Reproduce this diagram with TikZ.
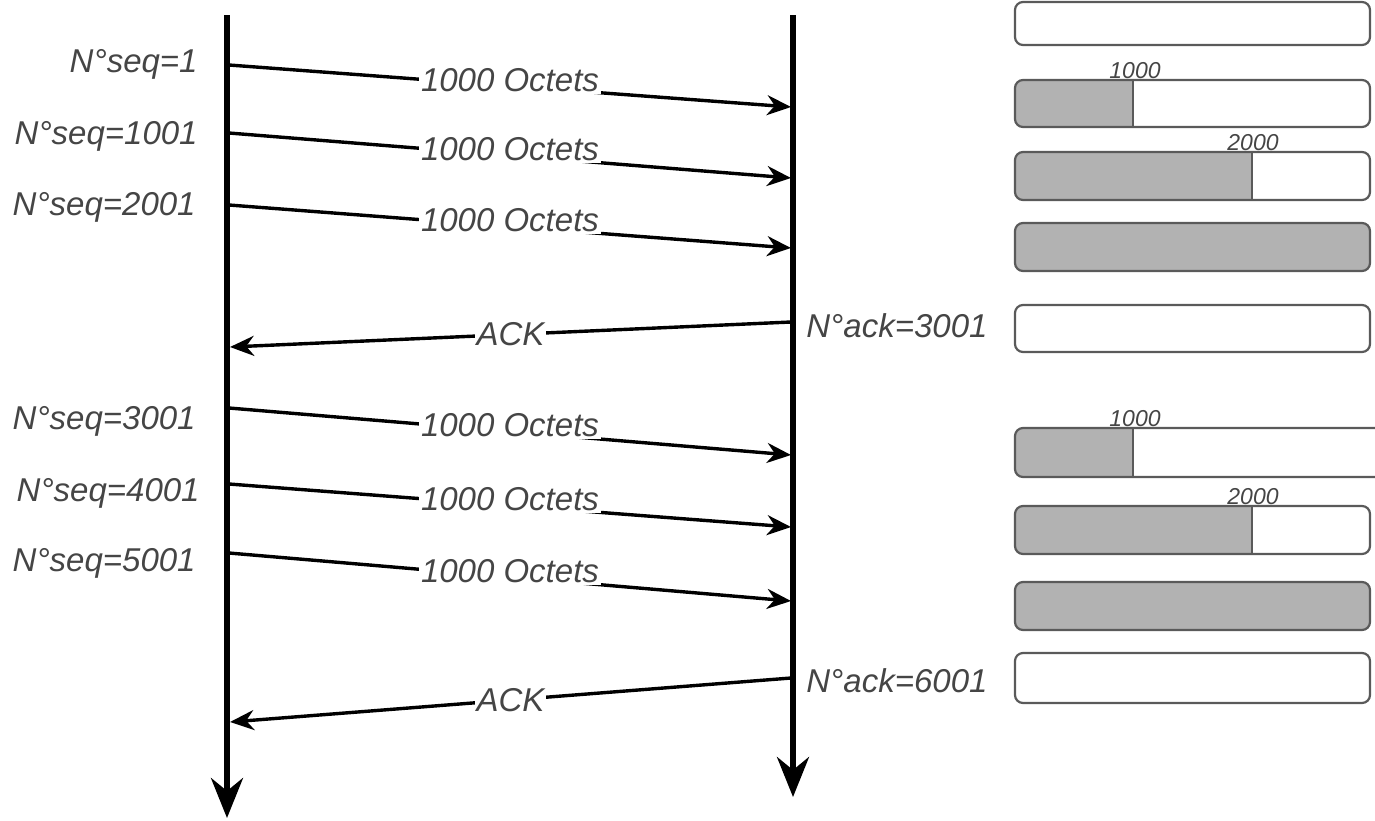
\documentclass[tikz,border=0pt]{standalone}
\usepackage{fontspec}
\setmainfont{Liberation Sans}
\usetikzlibrary{arrows.meta}

\definecolor{txtgray}{HTML}{454545}
\definecolor{bufgray}{HTML}{B2B2B2}
\definecolor{bufline}{HTML}{5A5A5A}

\begin{document}
\begin{tikzpicture}[x=0.5pt,y=-0.5pt,
    life/.style={line width=2.6pt,-{Stealth[length=20pt,width=16pt]}},
    msg/.style={line width=1.7pt,-{Stealth[length=12pt,width=10pt]}},
    lbl/.style={fill=white,inner sep=1pt,text=txtgray,font=\fontsize{16.5}{19}\selectfont\itshape},
    side/.style={inner sep=0pt,text=txtgray,font=\fontsize{16.5}{19}\selectfont\itshape},
    small/.style={inner sep=0pt,anchor=base,text=txtgray,font=\fontsize{11.5}{13}\selectfont\itshape},
    buf/.style={draw=bufline,line width=1.1pt,rounded corners=4pt},
    part/.style={fill=bufgray}]
                    \useasboundingbox (0,0) rectangle (1375,820);

                    %%lifelines
                    \coordinate (A0) at (227,15);
                    \coordinate (A1) at (227,818);
                    \coordinate (B0) at (793,15);
                    \coordinate (B1) at (793,797);
                    \draw[life] (A0) to (A1);
                    \draw[life] (B0) to (B1);

                    %%ends of the messages
                    \coordinate (s1) at (229,65);   \coordinate (r1) at (791,107);
                    \coordinate (s2) at (229,133);  \coordinate (r2) at (791,178);
                    \coordinate (s3) at (229,205);  \coordinate (r3) at (791,248);
                    \coordinate (a1) at (791,322);  \coordinate (k1) at (230,347);
                    \coordinate (s4) at (229,408);  \coordinate (r4) at (791,455);
                    \coordinate (s5) at (229,484);  \coordinate (r5) at (791,527);
                    \coordinate (s6) at (229,553);  \coordinate (r6) at (791,601);
                    \coordinate (a2) at (791,678);  \coordinate (k2) at (230,722);

                    %%segments
                    \draw[msg] (s1) to node[lbl, yshift=3pt]{1000 Octets} (r1);
                    \draw[msg] (s2) to node[lbl, yshift=3pt]{1000 Octets} (r2);
                    \draw[msg] (s3) to node[lbl, yshift=3pt]{1000 Octets} (r3);
                    \draw[msg] (s4) to node[lbl, yshift=3pt]{1000 Octets} (r4);
                    \draw[msg] (s5) to node[lbl, yshift=3pt]{1000 Octets} (r5);
                    \draw[msg] (s6) to node[lbl, yshift=3pt]{1000 Octets} (r6);

                    %%acks
                    \draw[msg] (a1) to node[lbl]{ACK} (k1);
                    \draw[msg] (a2) to node[lbl]{ACK} (k2);

                    %%sequence numbers
                    \node[side, anchor=base east] (n1) at (198,72){N°seq=1};
                    \node[side, anchor=base east] (n2) at (198,144){N°seq=1001};
                    \node[side, anchor=base east] (n3) at (196,215){N°seq=2001};
                    \node[side, anchor=base east] (n4) at (196,429){N°seq=3001};
                    \node[side, anchor=base east] (n5) at (200,501){N°seq=4001};
                    \node[side, anchor=base east] (n6) at (196,571){N°seq=5001};
                    \node[side, anchor=base west] (m1) at (806,337){N°ack=3001};
                    \node[side, anchor=base west] (m2) at (806,692){N°ack=6001};

                    %%receive buffer
                    \draw[buf] (1015,2) rectangle (1370,45);

                    \begin{scope}
                        \clip[rounded corners=4pt] (1015,80) rectangle (1370,127);
                        \fill[part] (1015,80) rectangle (1133,127);
                    \end{scope}
                    \draw[bufline, line width=1.1pt] (1133,80) to (1133,127);
                    \draw[buf] (1015,80) rectangle (1370,127);
                    \node[small] (b1) at (1135,78){1000};

                    \begin{scope}
                        \clip[rounded corners=4pt] (1015,152) rectangle (1370,200);
                        \fill[part] (1015,152) rectangle (1252,200);
                    \end{scope}
                    \draw[bufline, line width=1.1pt] (1252,152) to (1252,200);
                    \draw[buf] (1015,152) rectangle (1370,200);
                    \node[small] (b2) at (1253,150){2000};

                    \draw[buf, part] (1015,223) rectangle (1370,271);

                    \draw[buf] (1015,305) rectangle (1370,352);

                    %%receive buffer, second window
                    \begin{scope}
                        \clip[rounded corners=4pt] (1015,428) rectangle (1395,477);
                        \fill[part] (1015,428) rectangle (1133,477);
                    \end{scope}
                    \draw[bufline, line width=1.1pt] (1133,428) to (1133,477);
                    \draw[buf] (1015,428) rectangle (1395,477);
                    \node[small] (b3) at (1135,426){1000};

                    \begin{scope}
                        \clip[rounded corners=4pt] (1015,506) rectangle (1370,554);
                        \fill[part] (1015,506) rectangle (1252,554);
                    \end{scope}
                    \draw[bufline, line width=1.1pt] (1252,506) to (1252,554);
                    \draw[buf] (1015,506) rectangle (1370,554);
                    \node[small] (b4) at (1253,504){2000};

                    \draw[buf, part] (1015,582) rectangle (1370,630);

                    \draw[buf] (1015,653) rectangle (1370,703);

\end{tikzpicture}
\end{document}
